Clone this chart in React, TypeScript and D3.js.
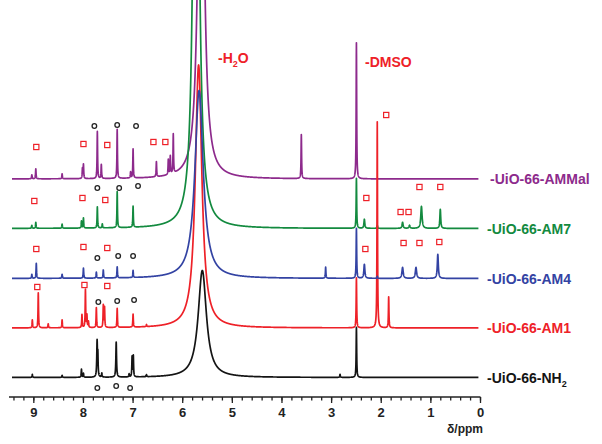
import React from "react";
import * as d3 from "d3";

// ---- data ----
const seriesNames = ["-UiO-66-NH", "-UiO-66-AM1", "-UiO-66-AM4", "-UiO-66-AM7", "-UiO-66-AMMal"];
const seriesColors = ["#141414", "#ee2128", "#3343a3", "#138a3f", "#8d2a8c"];
const seriesOffsets = [0, 49.5, 99, 149, 198.5];
// order in which the traces are painted (first = bottom)
const drawOrder = [4, 3, 1, 2, 0];

// peaks: [ppm, height, half-width(ppm, optional)]
const peaksNH2: number[][] = [
  [9.03, 3], [8.43, 2], [8.04, 8], [8.0, 4], [7.725, 35, 0.008], [7.71, 20], [7.63, 4],
  [7.34, 35, 0.008], [7.08, 3], [7.02, 20], [6.995, 21], [6.73, 2], [5.605, 107, 0.1],
  [2.83, 3], [2.5, 50],
];
const peaksAM1: number[][] = [
  [9.03, 8], [8.91, 35], [8.71, 4], [8.43, 8], [8.03, 13], [7.96, 38], [7.93, 12], [7.9, 6],
  [7.74, 20], [7.6, 22], [7.575, 20], [7.32, 19], [7.0, 13], [6.73, 2], [5.68, 263, 0.079],
  [2.5, 50], [2.08, 206], [1.85, 31],
];
const peaksAM4: number[][] = [
  [9.04, 4], [8.95, 15], [8.43, 4], [8.0, 10], [7.74, 6], [7.6, 8], [7.32, 11], [7.0, 7],
  [5.67, 188, 0.1], [3.12, 11], [2.5, 50], [2.34, 14, 0.012], [2.08, 2], [1.57, 11, 0.015],
  [1.3, 11, 0.015], [0.86, 24, 0.012],
];
const peaksAM7: number[][] = [
  [9.04, 3], [8.96, 6], [8.43, 4], [8.04, 7], [8.0, 10], [7.72, 21], [7.62, 4], [7.32, 36],
  [7.0, 21], [5.73, 700, 0.056], [2.5, 50], [2.34, 9, 0.01], [2.08, 3], [1.57, 6, 0.012],
  [1.43, 3, 0.012], [1.19, 22, 0.015], [0.81, 19, 0.01],
];
const peaksAMMal: number[][] = [
  [9.04, 4], [8.96, 10], [8.43, 5], [8.02, 10], [8.0, 14], [7.72, 47], [7.64, 14], [7.32, 49],
  [7.05, 6], [7.0, 29], [6.53, 15], [6.29, 15], [6.25, 18], [6.19, 39], [5.63, 500, 0.062],
  [3.61, 44], [2.5, 136],
];
const seriesPeaks = [peaksNH2, peaksAM1, peaksAM4, peaksAM7, peaksAMMal];

// markers: [ppm, height above own baseline]
const squaresNH2: number[][] = [];
const squaresAM1: number[][] = [[8.93, 41], [7.98, 43], [7.52, 42], [1.9, 213]];
const squaresAM4: number[][] = [[8.95, 29.5], [8.0, 31.5], [7.52, 30.5], [2.32, 29.5], [1.55, 35.5], [1.23, 35.5], [0.83, 36.5]];
const squaresAM7: number[][] = [[8.99, 27.5], [8.02, 30.5], [7.56, 28.5], [2.3, 30.5], [1.61, 16.5], [1.45, 16.5], [1.23, 41.5], [0.81, 41.5]];
const squaresAMMal: number[][] = [[8.95, 32], [8.0, 35], [7.52, 34], [6.59, 37], [6.35, 37]];
const seriesSquares = [squaresNH2, squaresAM1, squaresAM4, squaresAM7, squaresAMMal];

const circlesNH2: number[][] = [[7.72, -10.5], [7.34, -8.5], [7.06, -10.5]];
const circlesAM1: number[][] = [[7.7, 26], [7.32, 27], [6.98, 28]];
const circlesAM4: number[][] = [[7.72, 20.5], [7.3, 22.5], [7.0, 22.5]];
const circlesAM7: number[][] = [[7.72, 40.5], [7.28, 40.5], [6.9, 42.5]];
const circlesAMMal: number[][] = [[7.78, 53], [7.32, 54], [6.94, 53]];
const seriesCircles = [circlesNH2, circlesAM1, circlesAM4, circlesAM7, circlesAMMal];

const majorTicks = [9, 8, 7, 6, 5, 4, 3, 2, 1, 0];
const minorTicks = d3.range(0, 48).map((i) => i * 0.2);

// ---- layout ----
const W = 602;
const H = 444;
const FONT = "'Liberation Sans', Arial, Helvetica, sans-serif";
const SHARP = 0.006;

const x = d3.scaleLinear().domain([9.5, 0]).range([9, 480.5]);
const y = d3.scaleLinear().domain([0, 100]).range([377.5, 277.5]);

function spectrum(peaks: number[][], offset: number): [number, number][] {
  const pts = d3.range(9.44, 0.04, -0.002);
  peaks.forEach((p) => pts.push(p[0]));
  pts.sort((a, b) => b - a);
  return pts.map((p) => {
    let v = offset;
    for (const pk of peaks) {
      const g = pk[2] ?? SHARP;
      const d = (p - pk[0]) / g;
      v += pk[1] / (1 + d * d);
    }
    return [p, v];
  });
}

export default function App() {
  const line = d3
    .line<[number, number]>()
    .x((d) => x(d[0]))
    .y((d) => Math.max(-20, y(d[1])));

  const axisY = 397;

  return (
    <svg
      width={W}
      height={H}
      style={{ position: "absolute", left: 0, top: 0, background: "#fff" }}
      fontFamily={FONT}
    >
      <rect width={W} height={H} fill="#fff" />
      {drawOrder.map((i) => (
        <path
          key={"s" + i}
          d={line(spectrum(seriesPeaks[i], seriesOffsets[i])) || ""}
          fill="none"
          stroke={seriesColors[i]}
          strokeWidth={1.7}
          strokeLinejoin="round"
        />
      ))}
      {/* markers */}
      {seriesSquares.map((sq, i) =>
        sq.map((m, j) => (
          <rect
            key={`q${i}-${j}`}
            x={x(m[0]) - 2.6}
            y={y(seriesOffsets[i] + m[1]) - 2.6}
            width={5.2}
            height={5.2}
            fill="none"
            stroke="#ee2128"
            strokeWidth={1.2}
          />
        ))
      )}
      {seriesCircles.map((cs, i) =>
        cs.map((m, j) => (
          <circle
            key={`c${i}-${j}`}
            cx={x(m[0])}
            cy={y(seriesOffsets[i] + m[1])}
            r={2.3}
            fill="none"
            stroke="#222"
            strokeWidth={1.3}
          />
        ))
      )}
      {/* series labels */}
      {seriesNames.map((n, i) => (
        <text
          key={"l" + i}
          x={i === 4 ? 490 : 487}
          y={y(seriesOffsets[i]) + 5}
          fontSize={14}
          fontWeight="bold"
          fill={seriesColors[i]}
        >
          {n}
          {i === 0 ? (
            <tspan fontSize={9} dy={4}>
              2
            </tspan>
          ) : null}
        </text>
      ))}
      {/* peak annotations */}
      <text x={218} y={63} fontSize={14} fontWeight="bold" fill="#ee2128">
        -H
        <tspan fontSize={9} dy={4}>
          2
        </tspan>
        <tspan dy={-4}>O</tspan>
      </text>
      <text x={365} y={67} fontSize={14} fontWeight="bold" fill="#ee2128">
        -DMSO
      </text>
      {/* axis */}
      <g stroke="#222" strokeWidth={1.3}>
        <line x1={x(9.5)} x2={x(0)} y1={axisY} y2={axisY} />
        {minorTicks.map((t) => (
          <line key={"mt" + t} x1={x(t)} x2={x(t)} y1={axisY} y2={axisY + 3.5} />
        ))}
        {majorTicks.map((t) => (
          <line key={"Mt" + t} x1={x(t)} x2={x(t)} y1={axisY} y2={axisY + 6} />
        ))}
      </g>
      {majorTicks.map((t) => (
        <text
          key={"tl" + t}
          x={x(t)}
          y={417}
          fontSize={13}
          fontWeight="bold"
          textAnchor="middle"
          fill="#222"
        >
          {t}
        </text>
      ))}
      <text x={483} y={433} fontSize={12} fontWeight="bold" textAnchor="end" fill="#222">
        δ/ppm
      </text>
    </svg>
  );
}
